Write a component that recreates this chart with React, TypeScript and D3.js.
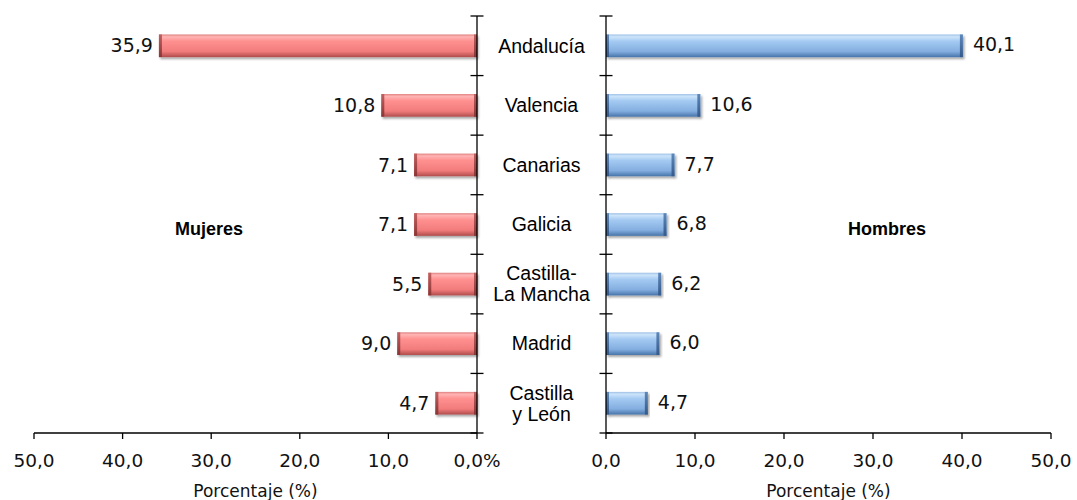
import React from "react";
import * as d3 from "d3";

const categories = ["Andalucía", "Valencia", "Canarias", "Galicia", "Castilla-\nLa Mancha", "Madrid", "Castilla\ny León"];
const mujeres = [35.9, 10.8, 7.1, 7.1, 5.5, 9.0, 4.7];
const hombres = [40.1, 10.6, 7.7, 6.8, 6.2, 6.0, 4.7];
const xTicks = [0, 10, 20, 30, 40, 50];
const seriesNames = ["Mujeres", "Hombres"];
const axisTitle = "Porcentaje (%)";

const W = 1077, H = 500;
const fmt = (v: number) => v.toFixed(1).replace(".", ",");
const NUM_FONT = "DejaVu Sans, sans-serif";
const CAT_FONT = "Liberation Sans, Arial, sans-serif";

export default function App() {
  const top = 16, bottom = 433;
  const y = d3.scaleBand<string>().domain(categories).range([top, bottom]).padding(0);
  const xL = d3.scaleLinear().domain([0, 50]).range([477, 34]);
  const xR = d3.scaleLinear().domain([0, 50]).range([606, 1051]);
  const bh = y.bandwidth() * 0.38;
  const bounds = d3.range(categories.length + 1).map((i) => top + i * y.step());
  const midX = (xL(0) + xR(0)) / 2;

  const bar = (x0: number, x1: number, yc: number, kind: "r" | "b", key: string) => {
    const xa = Math.min(x0, x1), w = Math.abs(x1 - x0);
    const edge = kind === "r" ? "url(#edgeR)" : "url(#edgeB)";
    return (
      <g key={key} filter="url(#shadow)">
        <rect x={xa} y={yc - bh / 2} width={w} height={bh} fill={kind === "r" ? "url(#gradR)" : "url(#gradB)"} />
        <rect x={xa} y={yc - bh / 2} width={3} height={bh} fill={edge} />
        <rect x={xa + w - 3} y={yc - bh / 2} width={3} height={bh} fill={edge} />
      </g>
    );
  };

  return (
    <svg width={W} height={H} style={{ position: "absolute", left: 0, top: 0, background: "#fff" }}>
      <defs>
        <linearGradient id="gradR" x1="0" y1="0" x2="0" y2="1">
          <stop offset="0%" stopColor="#E08080" />
          <stop offset="10%" stopColor="#FFB4B4" />
          <stop offset="30%" stopColor="#FF9090" />
          <stop offset="75%" stopColor="#F27C7C" />
          <stop offset="100%" stopColor="#B04C4C" />
        </linearGradient>
        <linearGradient id="edgeR" x1="0" y1="0" x2="0" y2="1">
          <stop offset="0%" stopColor="#C06060" />
          <stop offset="100%" stopColor="#8A3636" />
        </linearGradient>
        <linearGradient id="gradB" x1="0" y1="0" x2="0" y2="1">
          <stop offset="0%" stopColor="#9EC0E6" />
          <stop offset="10%" stopColor="#CDE4FA" />
          <stop offset="30%" stopColor="#A4CAF2" />
          <stop offset="75%" stopColor="#84AEE0" />
          <stop offset="100%" stopColor="#4674AA" />
        </linearGradient>
        <linearGradient id="edgeB" x1="0" y1="0" x2="0" y2="1">
          <stop offset="0%" stopColor="#5E88BA" />
          <stop offset="100%" stopColor="#34598A" />
        </linearGradient>
        <filter id="shadow" x="-5%" y="-30%" width="110%" height="170%">
          <feDropShadow dx="1.5" dy="2" stdDeviation="1.2" floodColor="#000" floodOpacity="0.35" />
        </filter>
      </defs>

      {/* Bars */}
      {categories.map((c, i) => bar(xL(mujeres[i]), xL(0), (y(c) as number) + y.bandwidth() / 2, "r", "m" + i))}
      {categories.map((c, i) => bar(xR(0), xR(hombres[i]), (y(c) as number) + y.bandwidth() / 2, "b", "h" + i))}

      {/* Vertical axes */}
      {[xL(0), xR(0)].map((ax, k) => (
        <g key={"va" + k} stroke="#000" strokeWidth={1.3}>
          <line x1={ax} x2={ax} y1={top} y2={bottom} />
          {bounds.map((b, j) => (
            <line key={j} x1={ax - 6.5} x2={ax + 6.5} y1={b} y2={b} />
          ))}
        </g>
      ))}

      {/* Horizontal axes */}
      {[xL, xR].map((sc, k) => (
        <g key={"ha" + k}>
          <line x1={sc(0)} x2={sc(50)} y1={bottom} y2={bottom} stroke="#000" strokeWidth={1.3} />
          {xTicks.map((t) => (
            <g key={t}>
              <line x1={sc(t)} x2={sc(t)} y1={bottom} y2={bottom + 6} stroke="#000" strokeWidth={1.3} />
              <text x={sc(t)} y={467} textAnchor="middle" fontFamily={NUM_FONT} fontSize={18.5} fill="#111">
                {fmt(t) + (k === 0 && t === 0 ? "%" : "")}
              </text>
            </g>
          ))}
          <text x={(sc(0) + sc(50)) / 2} y={497} textAnchor="middle" fontFamily={NUM_FONT} fontSize={17} fill="#111">
            {axisTitle}
          </text>
        </g>
      ))}

      {/* Value labels */}
      {categories.map((c, i) => {
        const yc = (y(c) as number) + y.bandwidth() / 2;
        return (
          <g key={"v" + i} fontFamily={NUM_FONT} fontSize={19} fill="#111">
            <text x={xL(mujeres[i]) - 6} y={yc} dy="0.35em" textAnchor="end">{fmt(mujeres[i])}</text>
            <text x={xR(hombres[i]) + 10} y={yc - 1} dy="0.35em" textAnchor="start">{fmt(hombres[i])}</text>
          </g>
        );
      })}

      {/* Category labels */}
      {categories.map((c) => {
        const lines = c.split("\n");
        const yc = (y(c) as number) + y.bandwidth() / 2;
        const lh = 21;
        return (
          <text key={c} x={midX} textAnchor="middle" fontFamily={CAT_FONT} fontSize={19.5} fill="#000">
            {lines.map((l, j) => (
              <tspan key={j} x={midX} y={yc + (j - (lines.length - 1) / 2) * lh} dy="0.35em">{l}</tspan>
            ))}
          </text>
        );
      })}

      {/* Series names */}
      <text x={209} y={229} dy="0.35em" textAnchor="middle" fontFamily={CAT_FONT} fontWeight="bold" fontSize={18} fill="#000">{seriesNames[0]}</text>
      <text x={887} y={229} dy="0.35em" textAnchor="middle" fontFamily={CAT_FONT} fontWeight="bold" fontSize={18} fill="#000">{seriesNames[1]}</text>
    </svg>
  );
}
